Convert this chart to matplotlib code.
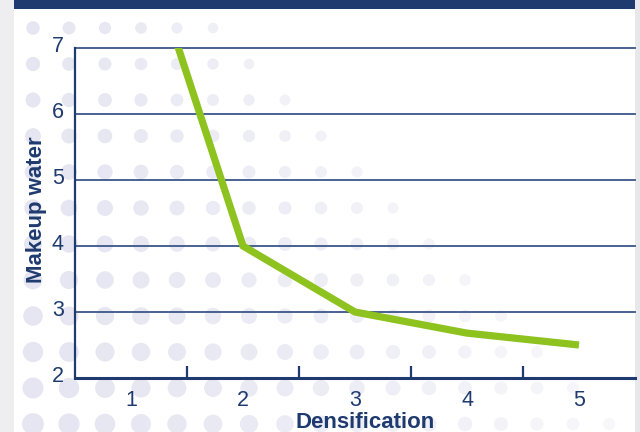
import numpy as np
import matplotlib.pyplot as plt
import matplotlib.transforms as mtransforms
from matplotlib.patches import Rectangle

# chart data
densification = [1, 2, 3, 4, 5]
makeup_water = [9.2, 4.0, 3.0, 2.68, 2.5]   # first point runs off the top of the chart
y_ticks = [2, 3, 4, 5, 6, 7]

navy = '#1f3a6e'
grid_navy = '#3b5688'
green = '#8dc21f'

plt.rcParams['font.family'] = ['Liberation Sans', 'DejaVu Sans']

fig = plt.figure(figsize=(6.4, 4.32), dpi=100)
fig.patch.set_facecolor('white')

# background layer in pixel coordinates: page edges, banner, dot pattern
bg = fig.add_axes([0, 0, 1, 1])
bg.set_xlim(0, 640)
bg.set_ylim(432, 0)
bg.axis('off')
bg.add_patch(Rectangle((0, 0), 14, 432, color='#eeeef0', lw=0))
bg.add_patch(Rectangle((635, 0), 5, 432, color='#e8e8ea', lw=0))
bg.add_patch(Rectangle((14, 0), 621, 9, color=navy, lw=0))

c0 = np.array([0.898, 0.902, 0.945])
c1 = np.array([0.968, 0.968, 0.982])
xs, ys, sizes, cols = [], [], [], []
for row in range(12):
    for col in range(row + 6):
        t = 0.55 * col / (row + 5) + 0.45 * col / 16
        d = max(13.5 + 0.75 * row - 0.6 * col, 9.5)
        xs.append(33 + 36 * col)
        ys.append(28 + 36 * row)
        sizes.append((d / 1.389) ** 2)
        cols.append(c0 + (c1 - c0) * min(t, 1) ** 1.5)
bg.scatter(xs, ys, s=sizes, c=cols, linewidths=0, zorder=1)

# main chart
ax = fig.add_axes([75 / 640, 54 / 432, 560 / 640, 330 / 432])
ax.patch.set_alpha(0)
ax.set_xlim(0.5, 5.5)
ax.set_ylim(2, 7)

for y in y_ticks[1:]:
    ax.axhline(y, color=grid_navy, lw=1.3, clip_on=False, zorder=1)

ax.plot(densification, makeup_water, color=green, lw=5.2,
        solid_joinstyle='miter', solid_capstyle='butt', zorder=3)

for side in ['top', 'right']:
    ax.spines[side].set_visible(False)
ax.spines['left'].set_color(navy)
ax.spines['left'].set_linewidth(1.6)
ax.spines['bottom'].set_color(navy)
ax.spines['bottom'].set_linewidth(2.2)

ax.set_yticks(y_ticks)
ax.set_xticks(densification)
ax.set_xticks([1.5, 2.5, 3.5, 4.5], minor=True)
ax.tick_params(axis='both', which='major', length=0, labelsize=15.5, colors=navy)
ax.tick_params(axis='x', which='major', pad=9)
ax.tick_params(axis='y', which='major', pad=8)
ax.tick_params(axis='x', which='minor', direction='in', length=9, width=1.6, color=navy)

# y labels sit a little above their grid lines
lift = mtransforms.ScaledTranslation(0, 4 / 100, fig.dpi_scale_trans)
for lbl in ax.get_yticklabels():
    lbl.set_transform(lbl.get_transform() + lift)

ax.set_xlabel('Densification', fontsize=16, fontweight='bold', color=navy)
ax.xaxis.set_label_coords(0.518, -0.104)
ax.set_ylabel('Makeup water', fontsize=16, fontweight='bold', color=navy)
ax.yaxis.set_label_coords(-0.05, 0.51)

fig.savefig('out.png', dpi=100)
